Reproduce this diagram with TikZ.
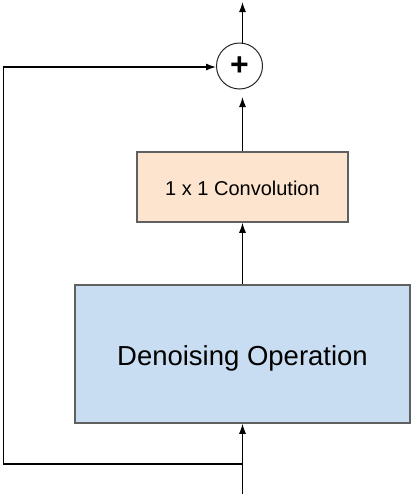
\documentclass[tikz,border=0pt]{standalone}
\usepackage{fontspec}
\setmainfont{Liberation Sans}
\usetikzlibrary{arrows.meta}
\definecolor{convfill}{HTML}{FCE4CE}
\definecolor{denfill}{HTML}{C8DDF1}
\definecolor{boxline}{HTML}{606060}
\begin{document}
\begin{tikzpicture}[x=1pt,y=-1pt,
  blockbox/.style={draw=boxline,line width=1.5pt,inner sep=0pt},
  arr/.style={line width=1.2pt,-{Latex[length=10pt,width=7pt]}},
  sumnode/.style={circle,draw=black!85,line width=1pt,minimum size=46pt,inner sep=0pt}]
\useasboundingbox (0,0) rectangle (414,496);
\node[blockbox,fill=denfill,minimum width=335pt,minimum height=138pt,
  font=\fontsize{27.5}{30}\selectfont,text height=24pt,text depth=2pt] (den) at (242.5,354) {Denoising Operation};
\node[blockbox,fill=convfill,minimum width=211pt,minimum height=70pt,
  font=\fontsize{20}{24}\selectfont,text height=18pt,text depth=2pt] (conv) at (242.5,187) {1 x 1 Convolution};
\node[sumnode,font=\bfseries\fontsize{32}{34}\selectfont] (sum) at (239.5,66) {+};
\coordinate (in) at (242.5,494);
\coordinate (br) at (242.5,464);
\coordinate (lc) at (3.5,464);
\coordinate (tc) at (3.5,67);
\coordinate (out) at (242.5,2);
\coordinate (sumin) at (242.5,97);
\coordinate (sumtop) at (242.5,43.5);
\draw[arr] (in) -- (den.south);
\draw[arr] (den.north) -- (conv.south);
\draw[arr] (conv.north) -- (sumin);
\draw[arr] (sumtop) -- (out);
\draw[arr] (br) -- (lc) -- (tc) -- (tc -| sum.west);
\end{tikzpicture}
\end{document}
